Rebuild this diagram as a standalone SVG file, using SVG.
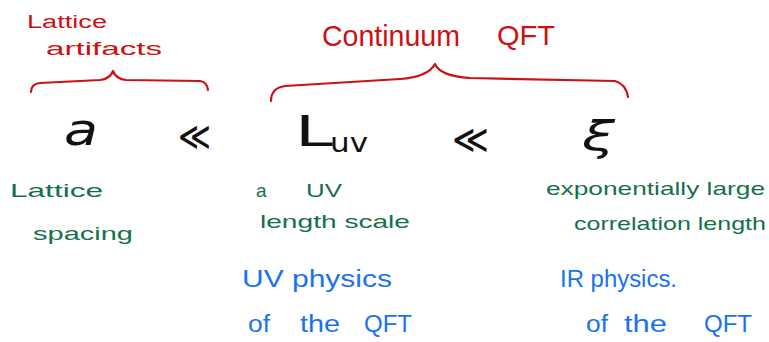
<svg xmlns="http://www.w3.org/2000/svg" width="769" height="342" viewBox="0 0 769 342">
<style>
.red{fill:#cc1111;font-family:"Liberation Sans",sans-serif}
.grn{fill:#16704a;font-family:"Liberation Sans",sans-serif;font-size:19px}
.blu{fill:#1a72f0;font-family:"Liberation Sans",sans-serif;font-size:23px}
.blk{fill:#111;font-family:"DejaVu Sans",sans-serif}
.brace{fill:none;stroke:#cc1111;stroke-width:2.2;stroke-linecap:round;stroke-linejoin:round}
</style>
<rect width="769" height="342" fill="#fff"/>
<g id="lattice-artifacts">
<text class="red" x="27" y="28" font-size="18" textLength="80" lengthAdjust="spacingAndGlyphs">Lattice</text>
<text class="red" x="46" y="55" font-size="18" textLength="116" lengthAdjust="spacingAndGlyphs">artifacts</text>
<path class="brace" d="M31,92 Q31,84 40,83 L100,80 Q110,79 113,71 Q116,79 126,80 L200,81 Q207,82 208,90"/>
</g>
<g id="continuum-qft">
<text class="red" x="322" y="46" font-size="30" textLength="138" lengthAdjust="spacingAndGlyphs">Continuum</text>
<text class="red" x="497" y="45" font-size="28" textLength="58" lengthAdjust="spacingAndGlyphs">QFT</text>
<path class="brace" d="M271,101 Q271,88 285,86 L400,79 Q428,77 435,64 Q440,76 470,78 L615,81 Q626,84 628,97"/>
</g>
<g id="symbols">
<text class="blk" x="64" y="145" font-size="44" font-style="italic" textLength="34" lengthAdjust="spacingAndGlyphs">a</text>
<text class="blk" x="178" y="150" font-size="40" textLength="33" lengthAdjust="spacingAndGlyphs">≪</text>
<text class="blk" x="295" y="146" font-size="42" textLength="38" lengthAdjust="spacingAndGlyphs">L</text>
<text class="blk" x="330" y="152" font-size="26" textLength="38" lengthAdjust="spacingAndGlyphs">uv</text>
<text class="blk" x="452" y="153" font-size="40" textLength="37" lengthAdjust="spacingAndGlyphs">≪</text>
<text class="blk" x="582" y="150" font-size="40" font-style="italic" textLength="33" lengthAdjust="spacingAndGlyphs">ξ</text>
</g>
<g id="green-labels">
<text class="grn" x="10" y="197" textLength="93" lengthAdjust="spacingAndGlyphs">Lattice</text>
<text class="grn" x="33" y="240" textLength="100" lengthAdjust="spacingAndGlyphs">spacing</text>
<text class="grn" x="256" y="197" font-size="17">a</text>
<text class="grn" x="306" y="197" font-size="19" textLength="36" lengthAdjust="spacingAndGlyphs">UV</text>
<text class="grn" x="260" y="228" font-size="18" textLength="150" lengthAdjust="spacingAndGlyphs">length scale</text>
<text class="grn" x="546" y="195" font-size="19" textLength="219" lengthAdjust="spacingAndGlyphs">exponentially large</text>
<text class="grn" x="574" y="230" font-size="19" textLength="192" lengthAdjust="spacingAndGlyphs">correlation length</text>
</g>
<g id="blue-labels">
<text class="blu" x="242" y="287" textLength="150" lengthAdjust="spacingAndGlyphs">UV physics</text>
<text class="blu" x="248" y="332" textLength="22" lengthAdjust="spacingAndGlyphs">of</text>
<text class="blu" x="300" y="332" textLength="40" lengthAdjust="spacingAndGlyphs">the</text>
<text class="blu" x="364" y="332" textLength="48" lengthAdjust="spacingAndGlyphs">QFT</text>
<text class="blu" x="560" y="287" font-size="24" textLength="117" lengthAdjust="spacingAndGlyphs">IR physics.</text>
<text class="blu" x="586" y="332" textLength="22" lengthAdjust="spacingAndGlyphs">of</text>
<text class="blu" x="624" y="332" textLength="43" lengthAdjust="spacingAndGlyphs">the</text>
<text class="blu" x="704" y="332" textLength="48" lengthAdjust="spacingAndGlyphs">QFT</text>
</g>
</svg>
